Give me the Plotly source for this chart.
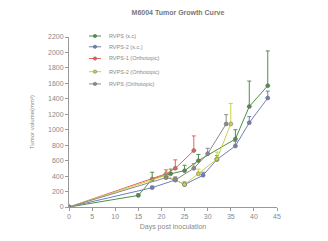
import plotly.graph_objects as go

title = "M6004 Tumor Growth Curve"
x_title = "Days post inoculation"
y_title = "Tumor volume(mm³)"

names = ["RVPS (s.c)", "RVPS-2 (s.c.)", "RVPS-1 (Orthotopic)", "RVPS-2 (Orthotopic)", "RVPS (Orthotopic)"]
colors = ["#4f8f45", "#6f7fb8", "#e8605a", "#c9d24a", "#8a8a8a"]

green_days = [0, 15, 18, 22, 25, 28, 36, 39, 43]
green_vals = [0, 150, 360, 430, 470, 600, 880, 1300, 1570]
green_err = [0, 20, 90, 60, 70, 80, 120, 330, 450]

blue_days = [0, 18, 23, 25, 29, 32, 36, 39, 43]
blue_vals = [0, 250, 350, 290, 410, 615, 790, 1090, 1410]
blue_err = [0, 20, 30, 30, 40, 50, 60, 80, 90]

red_days = [0, 21, 23, 27]
red_vals = [0, 430, 500, 730]
red_err = [0, 50, 110, 190]

yellow_days = [0, 21, 25, 28, 32, 35]
yellow_vals = [0, 410, 290, 430, 620, 1075]
yellow_err = [0, 30, 40, 60, 90, 265]

gray_days = [0, 21, 23, 27, 30, 34]
gray_vals = [0, 380, 350, 500, 690, 1075]
gray_err = [0, 40, 40, 60, 70, 120]

series = [
    (green_days, green_vals, green_err),
    (blue_days, blue_vals, blue_err),
    (red_days, red_vals, red_err),
    (yellow_days, yellow_vals, yellow_err),
    (gray_days, gray_vals, gray_err),
]

x_ticks = list(range(0, 46, 5))
y_ticks = list(range(0, 2201, 200))

W, H = 328, 241
L, R, T, B = 69, 51, 37, 30
PW, PH = W - L - R, H - T - B

fig = go.Figure()
for name, color, (d, v, e) in zip(names, colors, series):
    fig.add_trace(go.Scatter(
        x=d, y=v, name=name, mode="lines+markers", showlegend=False,
        line=dict(color=color, width=1),
        marker=dict(color=color, size=4, line=dict(color="#666666", width=0.5)),
        error_y=dict(type="data", array=e, arrayminus=[0] * len(e), symmetric=False,
                     color=color, thickness=1, width=2),
    ))

# custom compact legend (paper coordinates)
def px_x(p):
    return (p - L) / PW

def px_y(p):
    return (H - B - p) / PH

legend_rows = [36, 47, 59, 72.5, 85]
shapes = []
annotations = []
for name, color, row in zip(names, colors, legend_rows):
    shapes.append(dict(type="line", xref="paper", yref="paper",
                       x0=px_x(89), x1=px_x(101), y0=px_y(row), y1=px_y(row),
                       line=dict(color=color, width=1)))
    shapes.append(dict(type="circle", xref="paper", yref="paper",
                       x0=px_x(93.3), x1=px_x(96.7), y0=px_y(row + 1.7), y1=px_y(row - 1.7),
                       fillcolor=color, line=dict(color="#666666", width=0.5)))
    annotations.append(dict(text=name, xref="paper", yref="paper", x=px_x(107), y=px_y(row),
                            xanchor="left", yanchor="middle", showarrow=False,
                            font=dict(family="Liberation Sans, Arial", size=5.5, color="#888888")))

axis_font = dict(family="Liberation Sans, Arial", size=7, color="#888888")
fig.update_layout(
    width=W, height=H,
    margin=dict(l=L, r=R, t=T, b=B),
    paper_bgcolor="white", plot_bgcolor="white",
    showlegend=False,
    shapes=shapes, annotations=annotations,
    title=dict(text="<b>" + title + "</b>", x=178 / W, xanchor="center", y=1 - 13 / H, yanchor="middle",
               font=dict(family="Liberation Sans, Arial", size=7, color="#777777")),
    xaxis=dict(range=[0, 45], tickvals=x_ticks, showgrid=False, zeroline=False,
               showline=True, linecolor="#999999", linewidth=1, ticks="outside",
               ticklen=3, tickcolor="#999999", tickfont=axis_font,
               title=dict(text=x_title, font=dict(family="Liberation Sans, Arial", size=7, color="#888888"), standoff=4)),
    yaxis=dict(range=[0, 2200], tickvals=y_ticks, showgrid=False, zeroline=False,
               showline=True, linecolor="#999999", linewidth=1, ticks="outside",
               ticklen=3, tickcolor="#999999", tickfont=axis_font,
               title=dict(text=y_title, font=dict(family="Liberation Sans, Arial", size=6, color="#888888"), standoff=12)),
)

fig.write_html("out.html")
